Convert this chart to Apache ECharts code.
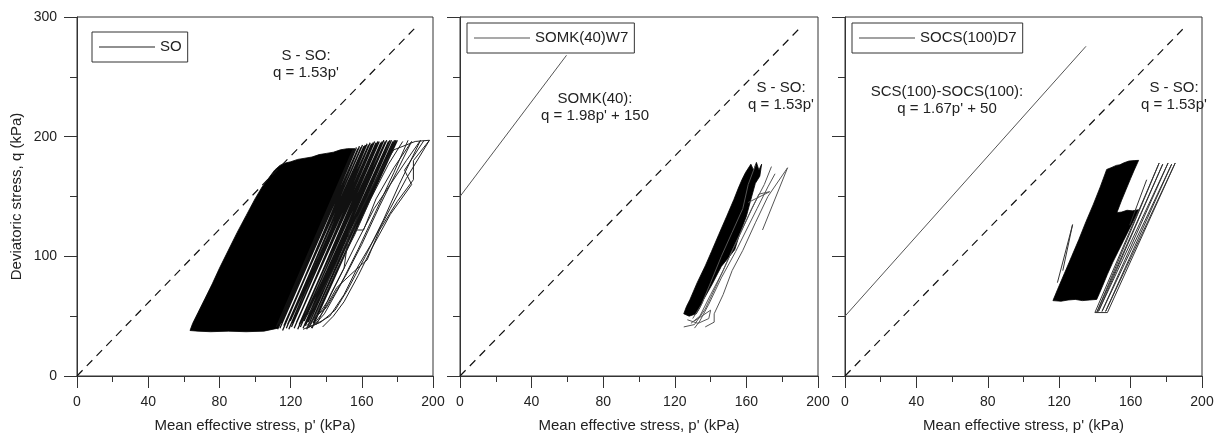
<!DOCTYPE html>
<html><head><meta charset="utf-8">
<script src="https://cdn.jsdelivr.net/npm/echarts@6/dist/echarts.min.js"></script>
<style>html,body{margin:0;padding:0;background:#fff}#c{width:1221px;height:440px}</style>
</head><body><div id="c"></div>
<script>
// ---------- DATA ----------
const xTicks = [0, 40, 80, 120, 160, 200];
const yTicks = [0, 100, 200, 300];
const panelNames = ['SO', 'SOMK(40)W7', 'SOCS(100)D7'];

// reference lines (end points)
const sSoLine = [[0, 0], [190, 291]];          // S - SO: q = 1.53p'
const somkLine = [[0, 150], [59.5, 268]];       // SOMK(40): q = 1.98p' + 150
const scsLine = [[0, 50], [135, 275.5]];        // SCS(100)-SOCS(100): q = 1.67p' + 50

// Panel 1 (SO): dense black core outline of the cyclic paths
const soCore = [[63.5,38],[65,44],[68,53],[72,65],[76,77],[80,90],[85,105],[90,120],[95,134],[100,148],[104,158],[108,166],[111,172],[114,176],[117,178],[120,179],[124,181],[128,182],[132,183],[136,185],[140,186],[144,187],[148,189],[152,190],[156,190],[152,175],[148,160],[144,145],[140,130],[135,113],[130,96],[125,79],[120,62],[116,49],[113,40],[105,37.5],[95,37],[85,37.5],[75,37],[68,37.5]];
// Panel 1 cycles on the right side of the core (bottom / top turning points)
const soBotP = [112,112.7,113.4,114,114.8,115.5,116.2,117,117.6,118.3,119,119.8,120.5,121.2,122,122.6,123.3,124,124.8,125.5,126.2,127,127.6,128.3,129,129.8,130.5,131.2,132,132.6];
const soBotQ = [41,39,43,40,44,38,42,45,40,43,39,46,41,44,40,42,45,39,43,41,44,40,46,42,39,45,41,43,40,44];
const soTopP = [155,156,157,157.8,158.7,159.5,160.4,161.2,162,163,163.8,164.7,165.5,166.4,167.2,168,169,169.8,170.7,171.5,172.4,173.2,174,175,175.8,176.7,177.5,178.4,179.2,180];
const soTopQ = [189,190,191,190,192,191,193,192,193,194,193,195,194,195,196,195,196,196,195,196,197,196,197,196,197,197,196,197,197,197];
// Panel 1 sparse outer paths
const soSparse = [
  [[131.5,40],[138,53],[146,74],[159,92],[163,97],[170,122],[180,146],[189,164],[189,180],[198,197]],
  [[129,42],[136,52],[141,63],[151,93],[157,111],[167,140],[176,160],[185,180],[193,197]],
  [[127,39],[135,44],[143,70],[150,90],[153,122],[161,122],[168,148],[178,174],[188,196]],
  [[125,43],[133,58],[141,80],[149,104],[160,140],[170,170],[178,189],[190,196],[198,197]],
  [[130,40],[133,48],[139,66],[146,89],[156,118],[165,148],[175,177],[183,196]],
  [[198,197],[185,165],[176,140],[166,112],[158,92],[150,68],[142,50],[134,43]],
  [[193,197],[181,160],[172,130],[162,100],[152,72],[145,55],[137,45],[129,40]],
  [[188,196],[180,172],[170,142],[160,110],[151,84],[140,57],[132,47]],
  [[195,197],[184,172],[188,160],[176,135],[165,105],[158,84],[150,62],[144,50],[138,41]],
  [[186,197],[178,170],[168,138],[158,106],[148,76],[139,52],[133,42]]
];

// Panel 2 (SOMK(40)W7)
const mkCore = [[125,52],[126.5,58],[128.5,64],[132.5,78],[137,92],[140.5,104],[144.5,118],[149,133.5],[153,147.5],[155.5,157],[157.5,164],[159.5,170],[162.5,177],[164,172],[165.6,178.5],[167,172],[168.5,177],[167.5,167],[165,161],[162.5,147.5],[160,133.5],[156.5,120],[153.5,105.6],[149.5,98],[146,91.6],[141,77],[136,63.7],[134,57],[132,52],[128,50]];
const mkSparse = [
  [[125,41],[131,43],[137,56],[143,75],[149,95],[156,117],[163,140],[170,160],[174,175]],
  [[137,41],[142,45],[142,52],[147,68],[152,88],[158,105],[165,128],[172,150],[183,174],[169,122]],
  [[129,44],[134,50],[140,68],[147,88],[153,108],[160,130],[167,152],[173,154],[161,145]],
  [[131,40],[134,46],[139,60],[146,82],[154,104],[160,122],[166,140],[172,158],[176,169]],
  [[127,47],[133,44],[139,48],[140,55],[131,46]],
  [[165,176],[161,160],[158,140],[152,120],[146,100],[140,78],[135,60],[130,48]]
];

// Panel 3 (SOCS(100)D7)
const csCore = [[116.5,63],[119,72],[123,86],[127,100],[131,114],[135,129],[139,143],[143,158],[146.6,172.6],[149,174],[152,176],[154,176.5],[156,178],[159,179.6],[162,180],[164.5,180.2],[162,172],[160,165],[157.5,156],[155,147],[152.3,136.5],[155,137],[158,138.5],[161,138],[164.5,139],[162,131],[159,122],[156,113],[153,104],[150,95],[147,85],[144.5,76],[142.5,69],[141,64],[137,63.5],[133,63],[129,64],[125,63.5],[121,62.5]];
const csSparse = [
  [[140,53],[147,53],[185,178],[146,54],[183,177],[144,54],[181,178],[142,54],[178,177],[141,53],[176,178],[140,53]],
  [[119,78],[127.5,126.5],[122,88]],
  [[169,164],[159.5,126]]
];

// ---------- CHART ----------
const FONT = 'Arial, "Liberation Sans", sans-serif';
const TXT = '#222', AX = '#333';
const grids = [
  {left: 77, top: 17, width: 356, height: 359},
  {left: 460, top: 17, width: 358, height: 359},
  {left: 845, top: 17, width: 357, height: 359}
].map(g => Object.assign(g, {show: true, borderColor: AX, borderWidth: 1}));

function xAx(i) {
  return {
    type: 'value', gridIndex: i, min: xTicks[0], max: xTicks[xTicks.length - 1], interval: xTicks[1] - xTicks[0],
    name: "Mean effective stress, p' (kPa)", nameLocation: 'middle', nameGap: 42,
    nameTextStyle: {fontSize: 15, color: TXT, fontFamily: FONT},
    axisLine: {onZero: false, lineStyle: {color: AX, width: 1}},
    axisTick: {length: 12, lineStyle: {color: AX}},
    minorTick: {show: true, splitNumber: 2, length: 6, lineStyle: {color: AX}},
    axisLabel: {fontSize: 14, color: TXT, fontFamily: FONT, margin: 19},
    splitLine: {show: false}
  };
}
function yAx(i) {
  return {
    type: 'value', gridIndex: i, min: yTicks[0], max: yTicks[yTicks.length - 1], interval: yTicks[1] - yTicks[0],
    name: i === 0 ? 'Deviatoric stress, q (kPa)' : '', nameLocation: 'middle', nameGap: 53,
    nameTextStyle: {fontSize: 15, color: TXT, fontFamily: FONT},
    axisLine: {onZero: false, lineStyle: {color: AX, width: 1}},
    axisTick: {length: 13, lineStyle: {color: AX}},
    minorTick: {show: true, splitNumber: 2, length: 7, lineStyle: {color: AX}},
    axisLabel: {show: i === 0, fontSize: 14, color: TXT, fontFamily: FONT, margin: 20},
    splitLine: {show: false}
  };
}

function polySeries(i, pts) {
  return {
    type: 'custom', xAxisIndex: i, yAxisIndex: i, data: [[pts[0][0], pts[0][1]]], silent: true, clip: true,
    renderItem: (params, api) => ({
      type: 'polygon',
      shape: {points: pts.map(d => api.coord(d))},
      style: {fill: '#000', stroke: '#000', lineWidth: 0.8}
    })
  };
}
function lineSeries(i, name, pts, color, width, dashed) {
  return {
    type: 'line', name: name, xAxisIndex: i, yAxisIndex: i, data: pts, symbol: 'none', showSymbol: false,
    silent: true, clip: true, color: color,
    lineStyle: {color: color, width: width, type: dashed ? [8, 6] : 'solid'}
  };
}

// zigzag of the SO cycles
const soZig = [];
soBotP.forEach((p, k) => { soZig.push([p, soBotQ[k]]); soZig.push([soTopP[k], soTopQ[k]]); });

const series = [];
// panel 1
series.push(polySeries(0, soCore));
series.push(lineSeries(0, 'SO', soZig, '#111', 1.25));
soSparse.forEach(s => series.push(lineSeries(0, 'so-extra', s, '#222', 1)));
series.push(lineSeries(0, 'sso1', sSoLine, '#111', 1.2, true));
// panel 2
series.push(polySeries(1, mkCore));
mkSparse.forEach((s, k) => series.push(lineSeries(1, k === 0 ? 'SOMK(40)W7' : 'mk-extra', s, '#555', 1)));
series.push(lineSeries(1, 'sso2', sSoLine, '#111', 1.2, true));
series.push(lineSeries(1, 'somk', somkLine, '#555', 1));
// panel 3
series.push(polySeries(2, csCore));
csSparse.forEach((s, k) => series.push(lineSeries(2, k === 0 ? 'SOCS(100)D7' : 'cs-extra', s, '#333', 1)));
series.push(lineSeries(2, 'sso3', sSoLine, '#111', 1.2, true));
series.push(lineSeries(2, 'scs', scsLine, '#555', 1));

function legend(name, left, top, color) {
  return {
    data: [{name: name, icon: 'rect'}], left: left, top: top, orient: 'horizontal', itemWidth: 56, itemHeight: 1,
    padding: [6, 6, 6, 7], borderColor: AX, borderWidth: 1, selectedMode: false,
    textStyle: {fontSize: 15, lineHeight: 18, color: TXT, fontFamily: FONT},
    itemStyle: {color: color, borderWidth: 0}
  };
}

function note(x, y, text) {
  return {type: 'text', x: x, y: y, silent: true,
    style: {text: text, align: 'center', textAlign: 'center', verticalAlign: 'top', textVerticalAlign: 'top',
      fontSize: 15, fontFamily: FONT, lineHeight: 17, fill: TXT}};
}

const chart = echarts.init(document.getElementById('c'), null, {renderer: 'canvas'});
chart.setOption({
  animation: false,
  backgroundColor: '#fff',
  textStyle: {fontFamily: FONT},
  grid: grids,
  xAxis: [xAx(0), xAx(1), xAx(2)],
  yAxis: [yAx(0), yAx(1), yAx(2)],
  legend: [legend(panelNames[0], 92, 32, '#222'), legend(panelNames[1], 467, 23, '#555'), legend(panelNames[2], 852, 23, '#444')],
  graphic: [
    note(306, 47.5, "S - SO:\nq = 1.53p'"),
    note(595, 90, "SOMK(40):\nq = 1.98p' + 150"),
    note(781, 79, "S - SO:\nq = 1.53p'"),
    note(947, 83, "SCS(100)-SOCS(100):\nq = 1.67p' + 50"),
    note(1174, 79, "S - SO:\nq = 1.53p'")
  ],
  series: series
});
</script></body></html>
